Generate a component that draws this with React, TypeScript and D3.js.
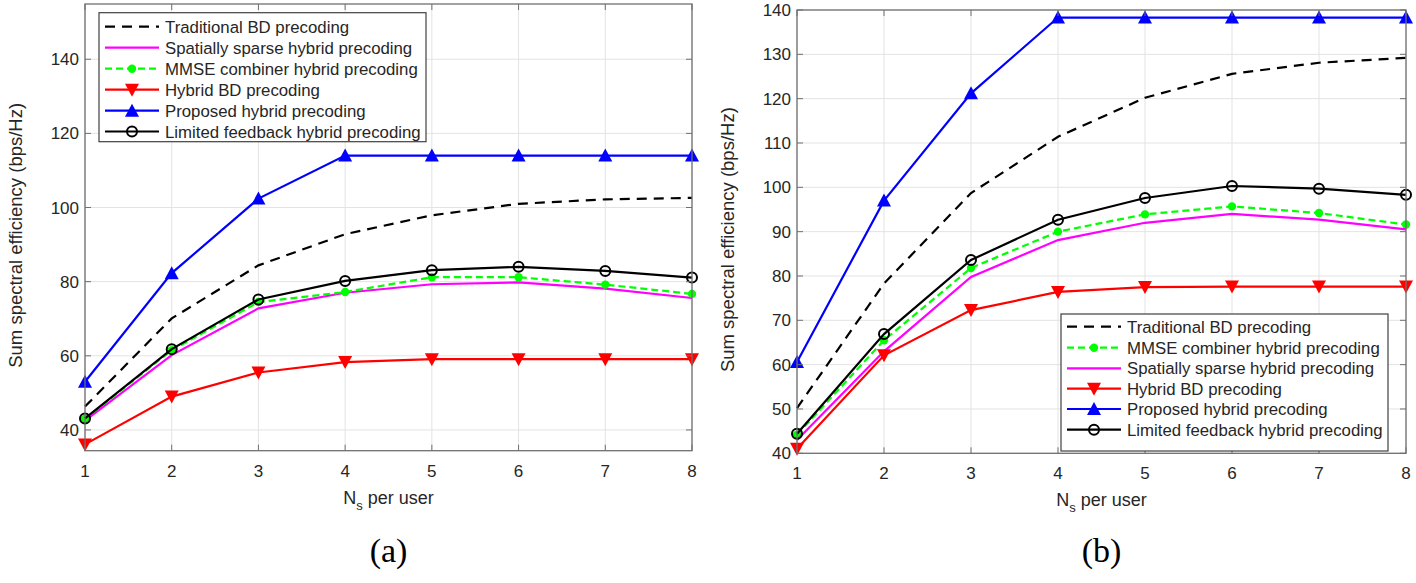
import React from 'react';
import * as d3 from 'd3';

// N_s per user
const nsValues = [1, 2, 3, 4, 5, 6, 7, 8];

// panel (a)
const tradA = [46.3, 70.1, 84.4, 92.8, 97.9, 101.0, 102.2, 102.6];
const sparseA = [42.5, 60.2, 72.8, 77.0, 79.3, 79.8, 78.1, 75.6];
const mmseA = [43.0, 61.5, 74.5, 77.2, 81.2, 81.2, 79.2, 76.7];
const hybridBdA = [36.1, 49.0, 55.5, 58.3, 59.1, 59.1, 59.1, 59.1];
const proposedA = [53.0, 82.3, 102.4, 114.0, 114.0, 114.0, 114.0, 114.0];
const limitedA = [43.1, 61.8, 75.2, 80.2, 83.1, 84.0, 82.9, 81.1];
const yTicksA = [40, 60, 80, 100, 120, 140];

// panel (b)
const tradB = [50.2, 78.3, 98.7, 111.4, 120.2, 125.6, 128.1, 129.2];
const mmseB = [44.2, 65.5, 81.8, 90.0, 93.9, 95.7, 94.2, 91.6];
const sparseB = [43.0, 63.0, 79.8, 88.1, 92.0, 94.0, 92.7, 90.5];
const hybridBdB = [41.0, 62.1, 72.3, 76.4, 77.5, 77.6, 77.6, 77.6];
const proposedB = [60.6, 97.0, 121.2, 138.3, 138.3, 138.3, 138.3, 138.3];
const limitedB = [44.4, 66.9, 83.6, 92.7, 97.6, 100.3, 99.7, 98.3];
const yTicksB = [40, 50, 60, 70, 80, 90, 100, 110, 120, 130, 140];

const FONT = '"Liberation Sans", Arial, Helvetica, sans-serif';

type Style = {
  name: string;
  color: string;
  dash?: string;
  marker?: 'down' | 'up' | 'circle' | 'dot';
};

const styles: Record<string, Style> = {
  trad: { name: 'Traditional BD precoding', color: '#000', dash: '10,7' },
  sparse: { name: 'Spatially sparse hybrid precoding', color: '#ff00ff' },
  mmse: { name: 'MMSE combiner hybrid precoding', color: '#00ff00', dash: '7,4', marker: 'dot' },
  hybrid: { name: 'Hybrid BD precoding', color: '#ff0000', marker: 'down' },
  proposed: { name: 'Proposed hybrid precoding', color: '#0000ff', marker: 'up' },
  limited: { name: 'Limited feedback hybrid precoding', color: '#000', marker: 'circle' },
};

function Marker({ kind, x, y, color }: { kind?: string; x: number; y: number; color: string }) {
  if (kind === 'down') {
    return <path d={`M${x - 7},${y - 6} L${x + 7},${y - 6} L${x},${y + 7} Z`} fill={color} />;
  }
  if (kind === 'up') {
    return <path d={`M${x - 7},${y + 6} L${x + 7},${y + 6} L${x},${y - 7} Z`} fill={color} />;
  }
  if (kind === 'circle') {
    return <circle cx={x} cy={y} r={5} fill="none" stroke={color} strokeWidth={2} />;
  }
  if (kind === 'dot') {
    return <circle cx={x} cy={y} r={4.2} fill={color} />;
  }
  return null;
}

type Series = { key: string; values: number[] };

function Panel(props: {
  left: number;
  right: number;
  top: number;
  bottom: number;
  yDomain: [number, number];
  yTicks: number[];
  series: Series[];
  legend: { x: number; y: number; w: number; h: number; rowY: number[] };
}) {
  const { left, right, top, bottom, yDomain, yTicks, series, legend } = props;
  const x = d3.scaleLinear().domain([1, 8]).range([left, right]);
  const y = d3.scaleLinear().domain(yDomain).range([bottom, top]);
  const line = d3
    .line<number>()
    .x((_, i) => x(nsValues[i]))
    .y((d) => y(d));
  const tick = 6;
  const axisColor = '#707070';
  const cx = (left + right) / 2;

  return (
    <g>
      {/* grid */}
      {nsValues.map((v) => (
        <line key={'gx' + v} x1={x(v)} x2={x(v)} y1={top} y2={bottom} stroke="#e3e3e3" />
      ))}
      {yTicks.map((v) => (
        <line key={'gy' + v} x1={left} x2={right} y1={y(v)} y2={y(v)} stroke="#e3e3e3" />
      ))}

      {/* series */}
      {series.map((s) => {
        const st = styles[s.key];
        return (
          <g key={s.key}>
            <path
              d={line(s.values) || ''}
              fill="none"
              stroke={st.color}
              strokeWidth={2.2}
              strokeDasharray={st.dash}
            />
            {s.values.map((v, i) => (
              <Marker key={i} kind={st.marker} x={x(nsValues[i])} y={y(v)} color={st.color} />
            ))}
          </g>
        );
      })}

      {/* box and ticks */}
      <rect x={left} y={top} width={right - left} height={bottom - top} fill="none" stroke={axisColor} strokeWidth={1.3} />
      {nsValues.map((v) => (
        <g key={'tx' + v}>
          <line x1={x(v)} x2={x(v)} y1={bottom} y2={bottom - tick} stroke={axisColor} />
          <line x1={x(v)} x2={x(v)} y1={top} y2={top + tick} stroke={axisColor} />
          <text x={x(v)} y={bottom + 26} textAnchor="middle" fontSize={17} fill="#262626" fontFamily={FONT}>
            {v}
          </text>
        </g>
      ))}
      {yTicks.map((v) => (
        <g key={'ty' + v}>
          <line x1={left} x2={left + tick} y1={y(v)} y2={y(v)} stroke={axisColor} />
          <line x1={right} x2={right - tick} y1={y(v)} y2={y(v)} stroke={axisColor} />
          <text x={left - 6} y={y(v) + 6} textAnchor="end" fontSize={17} fill="#262626" fontFamily={FONT}>
            {v}
          </text>
        </g>
      ))}

      {/* axis labels */}
      <text
        transform={`translate(${left - 63},${(top + bottom) / 2 + 8}) rotate(-90)`}
        textAnchor="middle"
        fontSize={18.5}
        fill="#262626"
        fontFamily={FONT}
      >
        Sum spectral efficiency (bps/Hz)
      </text>
      <text x={cx} y={bottom + 53} textAnchor="middle" fontSize={18} fill="#262626" fontFamily={FONT}>
        N<tspan dy={6} fontSize={13}>s</tspan>
        <tspan dy={-6}> per user</tspan>
      </text>

      {/* legend */}
      <rect x={legend.x} y={legend.y} width={legend.w} height={legend.h} fill="#fff" stroke="#404040" strokeWidth={1.2} />
      {series.map((s, i) => {
        const st = styles[s.key];
        const ry = legend.rowY[i];
        const x0 = legend.x + 6;
        const x1 = legend.x + 60;
        return (
          <g key={'lg' + s.key}>
            <line x1={x0} x2={x1} y1={ry} y2={ry} stroke={st.color} strokeWidth={2.2} strokeDasharray={st.dash} />
            <Marker kind={st.marker} x={(x0 + x1) / 2} y={ry} color={st.color} />
            <text x={legend.x + 66} y={ry + 6} fontSize={16.8} fill="#262626" fontFamily={FONT}>
              {st.name}
            </text>
          </g>
        );
      })}
    </g>
  );
}

export default function App() {
  // legend rows follow the order in these lists
  const seriesA: Series[] = [
    { key: 'trad', values: tradA },
    { key: 'sparse', values: sparseA },
    { key: 'mmse', values: mmseA },
    { key: 'hybrid', values: hybridBdA },
    { key: 'proposed', values: proposedA },
    { key: 'limited', values: limitedA },
  ];
  const seriesB: Series[] = [
    { key: 'trad', values: tradB },
    { key: 'mmse', values: mmseB },
    { key: 'sparse', values: sparseB },
    { key: 'hybrid', values: hybridBdB },
    { key: 'proposed', values: proposedB },
    { key: 'limited', values: limitedB },
  ];

  return (
    <div style={{ position: 'absolute', left: 0, top: 0 }}>
      <svg width={1416} height={583} style={{ display: 'block', background: '#fff' }}>
        <Panel
          left={85}
          right={692}
          top={4}
          bottom={450.7}
          yDomain={[34.4, 154.9]}
          yTicks={yTicksA}
          series={seriesA}
          legend={{ x: 99, y: 12.7, w: 327, h: 129, rowY: [26.7, 47.7, 68.7, 89.7, 110.7, 131.5] }}
        />
        <Panel
          left={797}
          right={1406}
          top={10}
          bottom={453.3}
          yDomain={[40, 140]}
          yTicks={yTicksB}
          series={seriesB}
          legend={{ x: 1061, y: 314, w: 327, h: 137, rowY: [326.7, 347.7, 368.3, 388.7, 409, 429.7] }}
        />
        <text x={388.5} y={562} textAnchor="middle" fontSize={34} fill="#000" fontFamily='"Liberation Serif", "DejaVu Serif", serif'>
          (a)
        </text>
        <text x={1101.5} y={562} textAnchor="middle" fontSize={34} fill="#000" fontFamily='"Liberation Serif", "DejaVu Serif", serif'>
          (b)
        </text>
      </svg>
    </div>
  );
}
